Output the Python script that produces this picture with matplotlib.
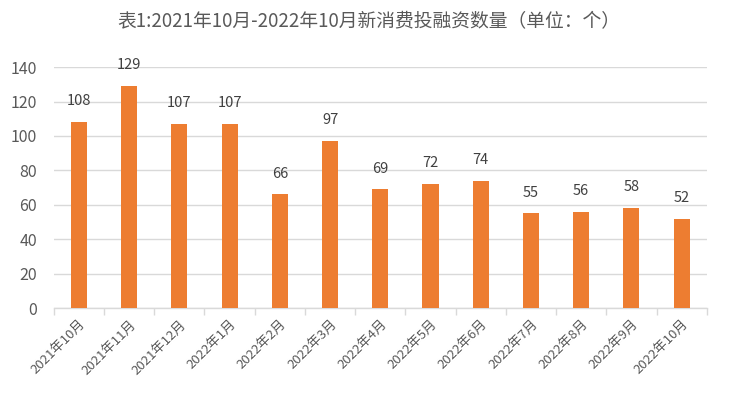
import matplotlib
matplotlib.use('Agg')
import matplotlib.pyplot as plt
import numpy as np

plt.rcParams['font.family'] = ['Noto Sans CJK SC', 'DejaVu Sans']

# data
months = ['2021年10月', '2021年11月', '2021年12月', '2022年1月', '2022年2月', '2022年3月',
          '2022年4月', '2022年5月', '2022年6月', '2022年7月', '2022年8月', '2022年9月', '2022年10月']
counts = [108, 129, 107, 107, 66, 97, 69, 72, 74, 55, 56, 58, 52]

fig = plt.figure(figsize=(7.37, 3.97), dpi=100)
ax = fig.add_axes([0.073, 0.224, 0.886, 0.607])

x = np.arange(len(months))
bars = ax.bar(x, counts, width=0.32, color='#ED7D31', zorder=3)

for xi, v in zip(x, counts):
    ax.text(xi, v + 8, str(v), ha='center', va='bottom', fontsize=10.5, color='#404040')

ax.set_xlim(-0.5, len(months) - 0.5)
ax.set_ylim(0, 140)
ax.set_yticks(range(0, 141, 20))
ax.grid(axis='y', color='#D9D9D9', linewidth=1, zorder=0)
ax.tick_params(axis='y', length=0, labelsize=11.5, labelcolor='#595959', pad=12)

# ticks between categories
ax.set_xticks(np.arange(-0.5, len(months), 1), minor=True)
ax.set_xticks(x)
ax.set_xticklabels(months, rotation=45, ha='right', rotation_mode='anchor',
                   fontsize=9.5, color='#595959')
ax.tick_params(axis='x', which='major', length=0, pad=7)
ax.tick_params(axis='x', which='minor', length=5, color='#D9D9D9', width=1)

for s in ['top', 'right', 'left']:
    ax.spines[s].set_visible(False)
ax.spines['bottom'].set_color('#D9D9D9')
ax.spines['bottom'].set_linewidth(1)

fig.text(0.5, 0.945, '表1:2021年10月-2022年10月新消费投融资数量（单位：个）',
         ha='center', va='center', fontsize=13.5, color='#595959')

fig.savefig('out.png', dpi=100)
